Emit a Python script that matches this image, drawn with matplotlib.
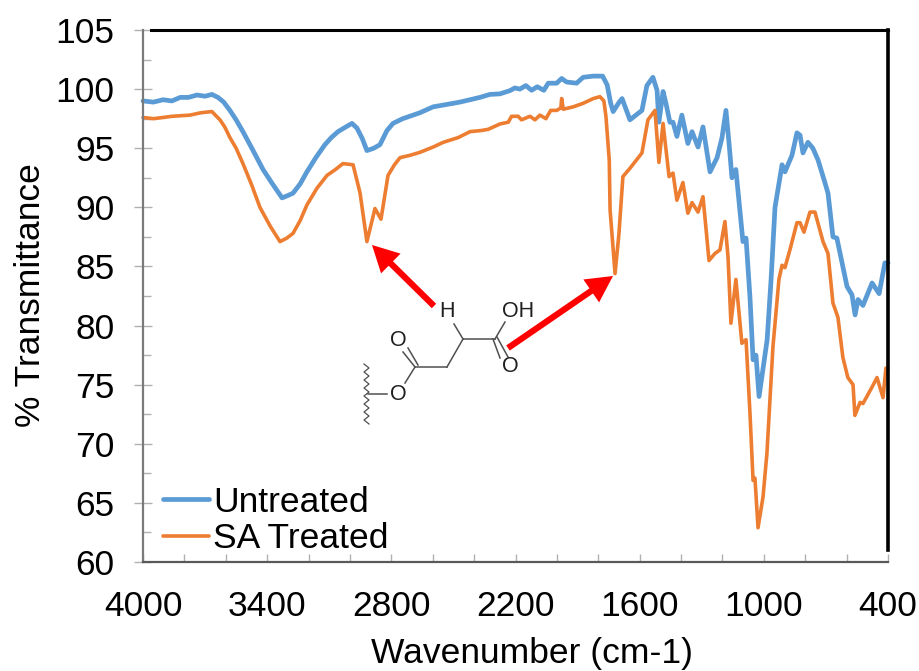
import matplotlib
matplotlib.use('Agg')
import matplotlib.pyplot as plt
from matplotlib.lines import Line2D
from matplotlib.patches import FancyArrowPatch

plt.rcParams['font.family'] = ['Liberation Sans', 'DejaVu Sans']

W_PX, H_PX = 919, 671

# 读图得到的数据
untreated_wn = [4000, 3950, 3903, 3860, 3820, 3780, 3739, 3700, 3667, 3638, 3610, 3580, 3550, 3517, 3468, 3420, 3375,
                3328, 3300, 3275, 3240, 3208, 3165, 3121, 3090, 3058, 3020, 2990, 2966, 2940, 2918, 2885, 2855, 2821,
                2792, 2745, 2695,
                2662, 2598, 2533, 2469, 2420, 2372, 2324, 2275, 2227, 2203, 2179, 2150, 2122, 2095, 2063,
                2042, 2001, 1977, 1953, 1905, 1873, 1824, 1779, 1757, 1740, 1728, 1699, 1685, 1647, 1589, 1565, 1536,
                1516, 1507, 1487, 1473, 1454, 1439, 1420, 1396, 1367, 1347, 1318, 1294, 1260, 1226, 1202, 1183, 1168,
                1154, 1135, 1101, 1086, 1067, 1052, 1038, 1023, 984, 965, 946, 912, 898, 864, 840, 825,
                811, 787, 763, 738, 705, 690, 666, 647, 598, 574, 559, 545, 521, 477, 443, 415, 400]
untreated_t = [99.0, 98.9, 99.1, 99.0, 99.3, 99.3, 99.5, 99.4, 99.55, 99.3, 98.9, 98.2, 97.4, 96.4, 94.8, 93.2, 92.0,
               90.8, 91.0, 91.2, 92.0, 93.0, 94.2, 95.3, 95.9, 96.4, 96.8, 97.1, 96.7, 95.8, 94.8, 95.0, 95.3, 96.5,
               97.1, 97.5, 97.8,
               98.0, 98.5, 98.7, 98.9, 99.1, 99.3, 99.55, 99.6, 99.87, 100.1, 100.0, 100.3, 99.9, 100.2, 99.9,
               100.5, 100.5, 100.9, 100.6, 100.5, 101.0, 101.1, 101.1, 100.35, 98.8, 98.1, 98.9, 99.2, 97.4, 98.2, 100.3, 101.0,
               99.9, 97.2, 99.8, 98.8, 97.2, 97.2, 96.0, 97.8, 95.4, 96.4, 95.1, 96.8, 93.0, 94.2, 95.9, 98.2, 95.4,
               92.5, 93.2, 87.1, 87.4, 82.4, 77.1, 77.5, 74.0, 78.8, 83.9, 90.0, 93.6, 93.0, 94.4, 96.3, 96.1,
               94.6, 95.5, 95.0, 94.0, 92.1, 91.2, 87.5, 87.4, 83.3, 82.6, 80.9, 82.2, 81.7, 83.6, 82.7, 85.3, 85.3]

treated_wn = [4000, 3950, 3903, 3860, 3773, 3720, 3667, 3628, 3605, 3580, 3550, 3517, 3475, 3435, 3385, 3338, 3305, 3275,
              3240, 3208, 3160, 3111, 3070, 3034, 2985, 2951, 2918, 2879, 2850, 2816, 2785, 2758, 2710,
              2662, 2598, 2549, 2477, 2420, 2364, 2332, 2275, 2235, 2219, 2187, 2171, 2130, 2106, 2082, 2053,
              2030, 2001, 1981, 1977, 1969, 1921, 1873, 1824, 1792, 1773, 1763, 1747, 1743, 1719, 1700, 1681, 1647,
              1589, 1560, 1526, 1507, 1487, 1458, 1439, 1420, 1391, 1367, 1347, 1318, 1294, 1265, 1236, 1212, 1188,
              1173, 1159, 1135, 1106, 1086, 1067, 1052, 1043, 1028, 1004, 985, 956, 927, 912, 898, 874, 840, 825, 806,
              777, 753, 714, 690, 666, 642, 618, 594, 569, 560, 535, 521, 477, 453, 424, 410, 400]
treated_t = [97.6, 97.5, 97.6, 97.7, 97.8, 98.0, 98.1, 97.4, 96.8, 95.9, 95.0, 93.7, 91.9, 90.0, 88.4, 87.1, 87.4, 87.8,
             88.9, 90.2, 91.6, 92.7, 93.2, 93.7, 93.6, 91.2, 87.1, 89.9, 89.0, 92.7, 93.6, 94.2, 94.4,
             94.65, 95.1, 95.5, 95.9, 96.4, 96.5, 96.6, 97.05, 97.2, 97.7, 97.7, 97.4, 97.7, 97.4, 97.8, 97.5,
             98.2, 98.2, 98.4, 99.2, 98.3, 98.5, 98.8, 99.2, 99.36, 99.0, 97.7, 94.0, 89.8, 84.4, 87.8, 92.6, 93.3,
             94.6, 97.4, 98.2, 93.8, 97.1, 92.6, 92.9, 90.6, 92.1, 89.5, 90.4, 89.6, 90.9, 85.5, 86.1, 86.4, 88.8,
             85.8, 80.2, 83.9, 78.5, 78.8, 72.6, 66.9, 67.1, 62.9, 65.5, 69.2, 78.2, 83.9, 85.1, 84.9, 86.4, 88.7, 88.7, 87.9,
             89.6, 89.6, 87.1, 86.1, 81.9, 80.7, 77.3, 75.6, 75.0, 72.4, 73.5, 73.4, 74.8, 75.6, 73.9, 76.4, 76.4]

x_labels = [4000, 3400, 2800, 2200, 1600, 1000, 400]
y_labels = [60, 65, 70, 75, 80, 85, 90, 95, 100, 105]


def px(x, y):
    # 像素坐标转 figure 坐标
    return x / W_PX, 1 - y / H_PX


fig = plt.figure(figsize=(W_PX / 100, H_PX / 100), dpi=100)
ax = fig.add_axes([143 / W_PX, (H_PX - 562) / H_PX, 745 / W_PX, 532 / H_PX])

ax.plot(untreated_wn, untreated_t, color='#5B9BD5', lw=3.4, label='Untreated', solid_capstyle='round', clip_on=False)
ax.plot(treated_wn, treated_t, color='#ED7D31', lw=2.6, label='SA Treated', solid_capstyle='round', clip_on=False)

ax.set_xlim(4000, 400)
ax.set_ylim(60, 105)
ax.set_xticks(x_labels)
ax.set_xticks(range(400, 4001, 200), minor=True)
ax.set_yticks(y_labels)
ax.set_yticks([v + 2.5 for v in y_labels[:-1]], minor=True)
ax.tick_params(axis='x', which='both', direction='in', length=6, width=1, color='#b0b0b0', pad=20, labelsize=25.5)
ax.tick_params(axis='y', which='major', direction='inout', length=13, width=1, color='#b0b0b0', pad=14, labelsize=25.5)
ax.tick_params(axis='y', which='minor', direction='in', length=6, width=1, color='#b0b0b0')

ax.spines['left'].set_color('#7a7a7a')
ax.spines['bottom'].set_color('#595959')
ax.spines['left'].set_linewidth(1.6)
ax.spines['bottom'].set_linewidth(1.6)
ax.spines['top'].set_linewidth(2.2)
ax.spines['top'].set_bounds(3960, 400)
ax.spines['right'].set_linewidth(2.6)
ax.spines['right'].set_bounds(61, 105)

fig.text(*px(532, 653), 'Wavenumber (cm-1)', fontsize=25.5, ha='center', va='center')
fig.text(*px(30, 295), '% Transmittance', fontsize=25.5, ha='center', va='center', rotation=90)

ax.legend(loc='lower left', bbox_to_anchor=px(163, 555), bbox_transform=fig.transFigure, frameon=False,
          fontsize=25.5, handlelength=1.3, handletextpad=0.12, labelspacing=0.09, borderpad=0, borderaxespad=0)

# 红色箭头
arrows = [((434, 306), (372, 245)), ((508, 348), (613, 276))]
for tail, tip in arrows:
    fig.add_artist(FancyArrowPatch(px(*tail), px(*tip), transform=fig.transFigure, color='#ff0000', lw=0,
                                   arrowstyle='simple,head_length=19,head_width=20,tail_width=4.5',
                                   shrinkA=0, shrinkB=0))

# 分子结构
bonds = [((368, 394), (387, 394)), ((405, 383), (415, 367)), ((403, 352), (415, 367)), ((408, 348), (418, 365)),
         ((415, 367), (447, 367)), ((447, 367), (463, 339)), ((463, 339), (495, 339)), ((463, 339), (454, 324)),
         ((495, 339), (505, 322)), ((493, 339), (500, 358)), ((497, 337), (508, 357))]
for a, b in bonds:
    fig.add_artist(Line2D([px(*a)[0], px(*b)[0]], [px(*a)[1], px(*b)[1]], color='#505050', lw=1.1))

wavy_y = list(range(364, 428, 4))
wavy_x = [364 if i % 2 == 0 else 369 for i in range(len(wavy_y))]
fig.add_artist(Line2D([v / W_PX for v in wavy_x], [1 - v / H_PX for v in wavy_y], color='#505050', lw=0.9))

atoms = [('O', 398, 395), ('O', 398, 340), ('H', 447, 312), ('OH', 518, 312), ('O', 510, 367)]
for name, x, y in atoms:
    fig.text(*px(x, y), name, fontsize=15.5, ha='center', va='center', color='#202020')

fig.savefig('out.png', dpi=100)
